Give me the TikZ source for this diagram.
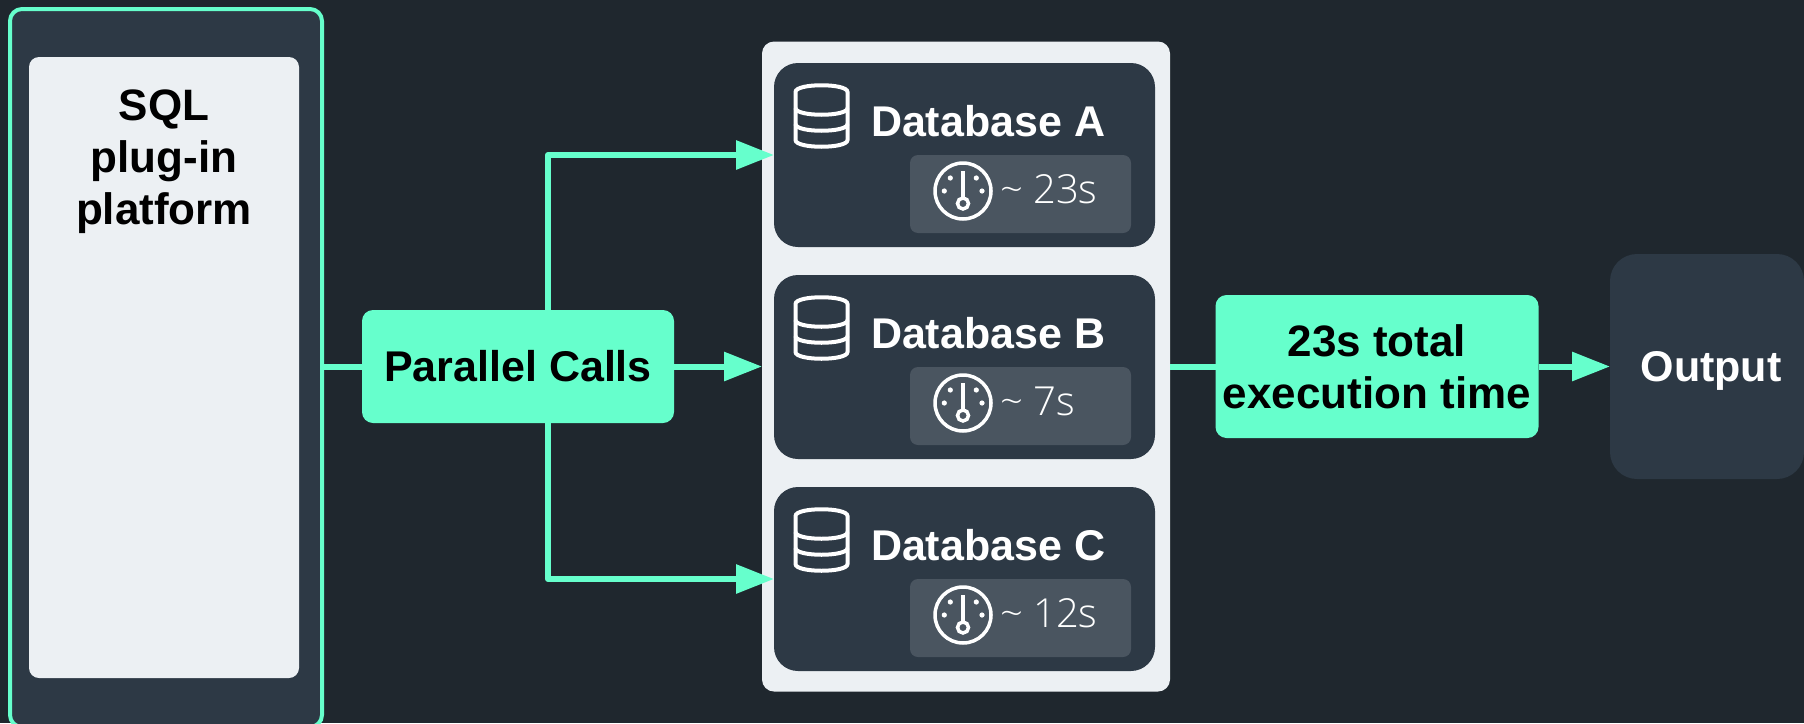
\documentclass[tikz,border=0pt]{standalone}
\usepackage{fontspec}
\setmainfont{Liberation Sans}
\newfontfamily\thinfont{Open Sans Light}
\usetikzlibrary{arrows.meta,calc}
\definecolor{nightbg}{HTML}{1F272E}
\definecolor{slatebox}{HTML}{2D3945}
\definecolor{timebox}{HTML}{4A5560}
\definecolor{paper}{HTML}{ECF0F3}
\definecolor{mint}{HTML}{66FFCC}

\begin{document}
\begin{tikzpicture}[x=1pt,y=-1pt,inner sep=0pt,outer sep=0pt,
  head/.style={font=\fontsize{44}{52}\selectfont\bfseries,align=center,text=black},
  dbname/.style={font=\fontsize{43}{52}\selectfont\bfseries,text=white,anchor=base west},
  secs/.style={font=\fontsize{40}{46}\selectfont\thinfont,text=white,anchor=base west},
  mintbox/.style={fill=mint,rounded corners=11pt},
  dbbox/.style={fill=slatebox,rounded corners=24pt,minimum width=381pt,minimum height=184pt},
  tbox/.style={fill=timebox,rounded corners=8pt,minimum width=221pt,minimum height=78pt},
  wire/.style={draw=mint,line width=6pt,line join=round},
  arr/.style={wire,-{Triangle[length=38pt,width=28pt]}},
  dbicon/.pic={
    \draw[white,line width=4pt] (-26,-24) .. controls (-26,-33) and (26,-33) .. (26,-24) -- (26,24) .. controls (26,33) and (-26,33) .. (-26,24) -- cycle;
    \draw[white,line width=4pt] (-26,-8) .. controls (-26,1) and (26,1) .. (26,-8);
    \draw[white,line width=4pt] (-26,8) .. controls (-26,17) and (26,17) .. (26,8);
  },
  dialicon/.pic={
    \draw[white,line width=3.5pt] (0,0) circle (28);
    \draw[white,line width=3.5pt] (0,12.5) circle (5.5);
    \draw[white,line width=3.5pt] (0,-20) -- (0,7);
    \fill[white] (-12.7,-13) circle (2.6);
    \fill[white] (13.3,-13) circle (2.6);
    \fill[white] (-18.7,0) circle (2.6);
    \fill[white] (19,0) circle (2.6);
  }]
\useasboundingbox (0,0) rectangle (1804,723);
\fill[nightbg] (0,0) rectangle (1804,723);

\node[draw=mint,line width=4pt,fill=slatebox,rounded corners=12pt,minimum width=312pt,minimum height=718pt] (frame) at (166,368) {};
\node[fill=paper,rounded corners=10pt,minimum width=270pt,minimum height=621pt] (plat) at (164,367.5) {};
\node[head,anchor=north] (sql) at (164,90) {SQL\\plug-in\\platform};

\node[fill=paper,rounded corners=12pt,minimum width=408pt,minimum height=650pt] (panel) at (966,366.5) {};
\node[dbbox] (dba) at (964.5,155) {};
\node[dbbox] (dbb) at (964.5,367) {};
\node[dbbox] (dbc) at (964.5,579) {};
\node[tbox] (ta) at (1020.5,194) {};
\node[tbox] (tb) at (1020.5,406) {};
\node[tbox] (tc) at (1020.5,618) {};
\node[dbname] (na) at (871,136) {Database A};
\node[dbname] (nb) at (871,348) {Database B};
\node[dbname] (nc) at (871,560) {Database C};
\node[secs] (va) at (1000,203) {\textasciitilde{} 23s};
\node[secs] (vb) at (1000,415) {\textasciitilde{} 7s};
\node[secs] (vc) at (1000,627) {\textasciitilde{} 12s};
\pic at (821.5,116) {dbicon};
\pic at (821.5,328) {dbicon};
\pic at (821.5,540) {dbicon};
\pic at (963,191) {dialicon};
\pic at (963,403) {dialicon};
\pic at (963,615) {dialicon};

\node[mintbox,head,font=\fontsize{43}{52}\selectfont\bfseries,minimum width=312pt,minimum height=113pt] (call) at (518,366.5) {Parallel Calls};
\node[mintbox,head,minimum width=323pt,minimum height=143pt] (total) at (1377,366.5) {23s total\\execution time};
\node[fill=slatebox,rounded corners=27pt,minimum width=194pt,minimum height=225pt] (out) at (1707,366.5) {};
\node[font=\fontsize{43}{52}\selectfont\bfseries,text=white,anchor=base] (outtxt) at (1711,381) {Output};

\coordinate (c1) at (548,310);
\coordinate (c2) at (548,423);
\draw[wire] (frame.east |- call.west) -- (call.west);
\draw[arr] (c1) |- (dba.west);
\draw[arr] (call.east) -- (panel.west);
\draw[arr] (c2) |- (dbc.west);
\draw[wire] (panel.east) -- (total.west);
\draw[arr] (total.east) -- (out.west);
\end{tikzpicture}
\end{document}
